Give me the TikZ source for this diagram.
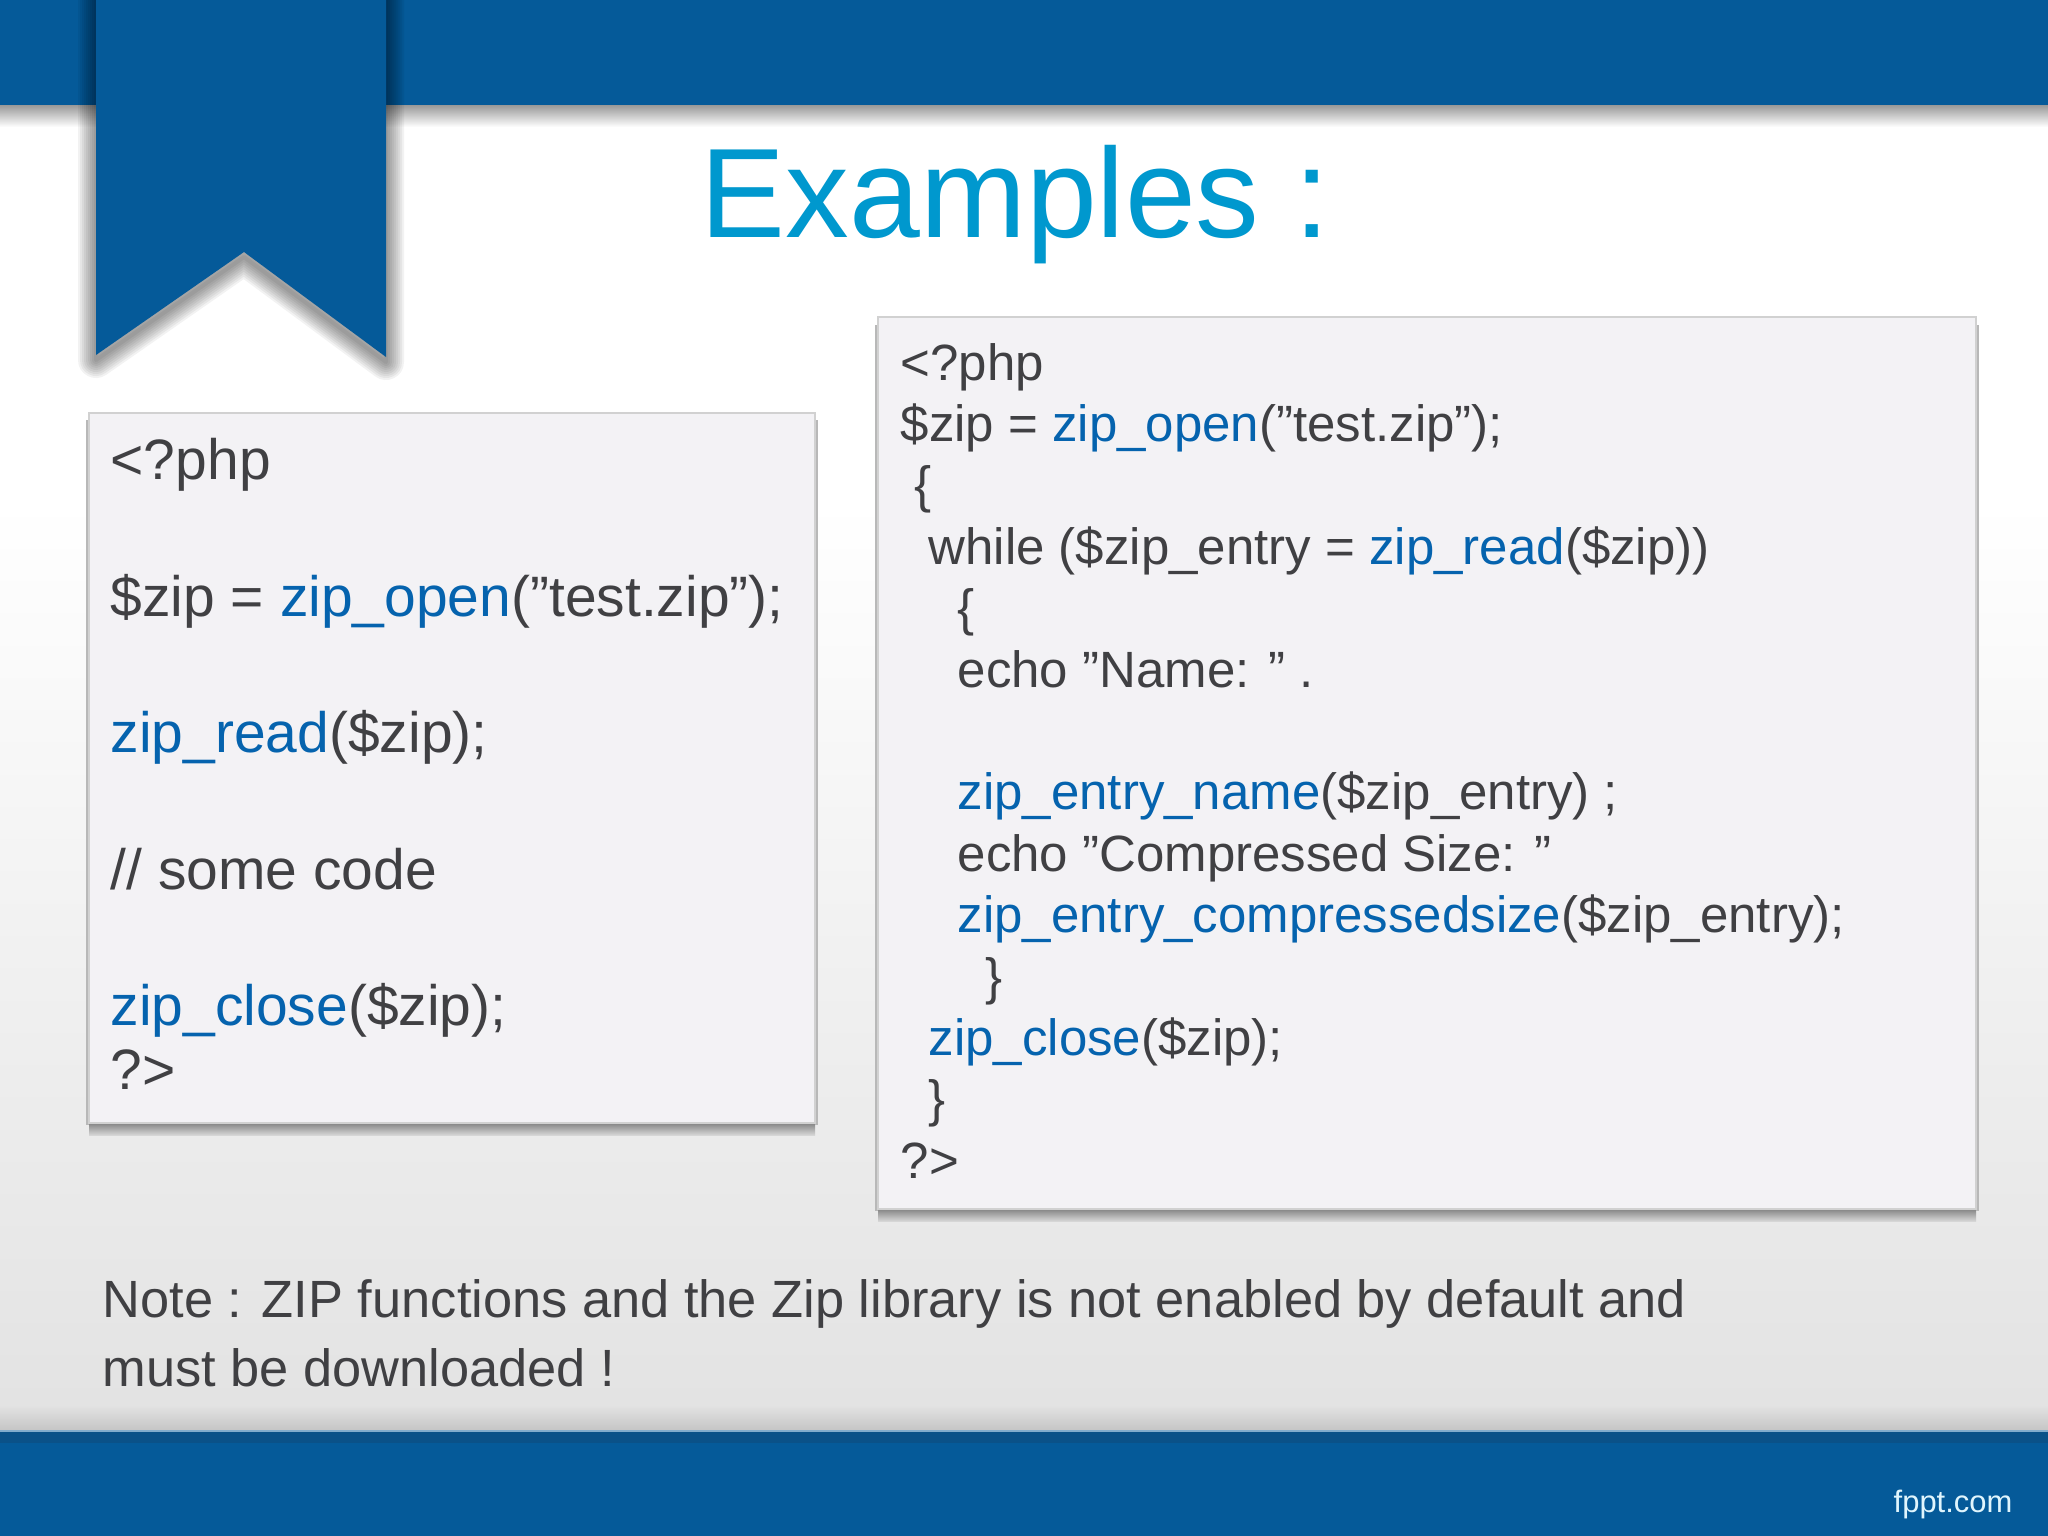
\documentclass[tikz,border=0pt]{standalone}
\usepackage{fontspec}
\setmainfont{Liberation Sans}
\definecolor{bandblue}{HTML}{055A99}
\definecolor{bandedge}{HTML}{0A5188}
\definecolor{titleblue}{HTML}{0098CE}
\definecolor{fnblue}{HTML}{0563AE}
\definecolor{codegray}{HTML}{404043}
\definecolor{boxfill}{HTML}{F3F2F5}
\newcommand{\zipfn}[1]{\textcolor{fnblue}{#1}}
\tikzset{
  bigline/.style={anchor=base west,inner sep=0pt,text=codegray,font=\fontsize{16.2}{19}\selectfont},
  smallline/.style={anchor=base west,inner sep=0pt,text=codegray,font=\fontsize{14.5}{17}\selectfont},
  noteline/.style={anchor=base west,inner sep=0pt,text=codegray,font=\fontsize{14.9}{18}\selectfont},
  codebox/.style={fill=boxfill,draw=black!18,line width=0.4pt},
}
\begin{document}
\begin{tikzpicture}[x=0.01cm,y=-0.01cm]
\useasboundingbox (0,0) rectangle (2048,1536);
% background
\fill[white] (0,0) rectangle (2048,500);
\shade[top color=white,bottom color=black!11] (0,500) rectangle (2048,1405);
\shade[top color=black!11,bottom color=black!23] (0,1405) rectangle (2048,1431);
% top band and its shadow
\shade[top color=black!40,bottom color=white] (0,105) rectangle (2048,127);
\fill[bandblue] (0,0) rectangle (2048,105);
% ribbon
\foreach \w in {4,8,...,36}
  \draw[line width=\w*0.01cm,black,opacity=0.05,line join=round,shift={(0,5)}]
    (96,-5) -- (96,355) -- (244,252) -- (386,357) -- (386,-5);
\fill[bandblue] (96,0) -- (96,355) -- (244,252) -- (386,357) -- (386,0) -- cycle;
% bottom band
\fill[bandblue] (0,1431) rectangle (2048,1536);
\fill[bandedge] (0,1431) rectangle (2048,1443);
\draw[line width=0.3pt,bandblue!50] (0,1431) -- (2048,1431);
% left box
\shade[top color=black!48,bottom color=black!16] (89,1123) rectangle (815,1135);
\fill[black!28] (86,420) rectangle (89,1125);
\fill[black!28] (815,420) rectangle (818,1125);
\draw[codebox] (89,413) rectangle (815,1123);
% right box
\shade[top color=black!48,bottom color=black!16] (878,1209) rectangle (1976,1221);
\fill[black!28] (875,325) rectangle (878,1211);
\fill[black!28] (1976,325) rectangle (1979,1211);
\draw[codebox] (878,317) rectangle (1976,1209);
% title
\node[anchor=base west,inner sep=0pt,text=titleblue,font=\fontsize{36.2}{40}\selectfont] (title) at (700,237) {Examples :};
% left code
\node[bigline] (lphp) at (110,479) {<?php};
\node[bigline] (lopen) at (110,616) {\$zip = \zipfn{zip\_open}("test.zip");};
\node[bigline] (lread) at (110,752) {\zipfn{zip\_read}(\$zip);};
\node[bigline] (lcode) at (110,889) {// some code};
\node[bigline] (lclose) at (110,1025) {\zipfn{zip\_close}(\$zip);};
\node[bigline] (lend) at (110,1089) {?>};
% right code
\node[smallline] (rphp) at (900,380) {<?php};
\node[smallline] (ropen) at (900,441.4) {\$zip = \zipfn{zip\_open}("test.zip");};
\node[smallline] (rbra) at (914,502.8) {\{};
\node[smallline] (rwhile) at (928,564.2) {while (\$zip\_entry = \zipfn{zip\_read}(\$zip))};
\node[smallline] (rbrb) at (957,625.6) {\{};
\node[smallline] (recho) at (957,687) {echo "Name: " .};
\node[smallline] (rname) at (957,809.8) {\zipfn{zip\_entry\_name}(\$zip\_entry) ;};
\node[smallline] (rsize) at (957,871.2) {echo "Compressed Size: "};
\node[smallline] (rcomp) at (957,932.6) {\zipfn{zip\_entry\_compressedsize}(\$zip\_entry);};
\node[smallline] (rbrc) at (985,994) {\}};
\node[smallline] (rclose) at (928,1055.4) {\zipfn{zip\_close}(\$zip);};
\node[smallline] (rbrd) at (928,1116.8) {\}};
\node[smallline] (rend) at (900,1178.2) {?>};
% note
\node[noteline] (notea) at (102,1317) {Note : ZIP functions and the Zip library is not enabled by default and};
\node[noteline] (noteb) at (102,1386) {must be downloaded !};
% footer
\node[anchor=base west,inner sep=0pt,text=cyan!12,font=\fontsize{8.8}{10}\selectfont] (fppt) at (1893,1512) {fppt.com};
\end{tikzpicture}
\end{document}
